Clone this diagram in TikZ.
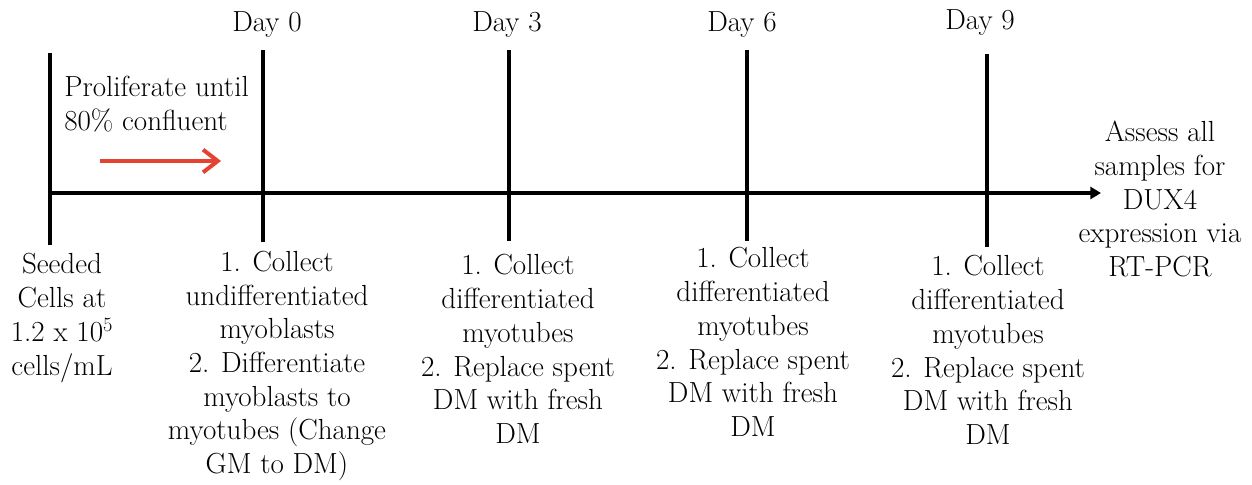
\documentclass[tikz,border=0pt]{standalone}
\usepackage{tikz}
\usetikzlibrary{positioning, arrows, arrows.meta}

\definecolor{arrowred}{RGB}{229,66,50}

\begin{document}
\begin{tikzpicture}[x=0.75pt,y=0.75pt,yscale=-1,xscale=1,
  daymark/.style={line width=3.2pt},
  txt/.style={font=\fontsize{21.8}{25.3}\selectfont, align=center, inner sep=0pt}]
\path[use as bounding box] (0,0) rectangle (1252,485); %set diagram size to 1252 x 485

%Coordinates of the time line
\coordinate (start) at (48,193);
\coordinate (end) at (1101,193);
\coordinate (s0top) at (50,53);
\coordinate (s0bot) at (50,245);
\coordinate (d0top) at (263,50);
\coordinate (d0bot) at (263,242);
\coordinate (d3top) at (509,50);
\coordinate (d3bot) at (509,241);
\coordinate (d6top) at (747,50);
\coordinate (d6bot) at (747,241);
\coordinate (d9top) at (987,54);
\coordinate (d9bot) at (987,247);
\coordinate (redstart) at (100,161);
\coordinate (redend) at (221,161);

%Straight Lines
\draw [line width=3.6pt, -{Triangle[length=8pt,width=9pt]}] (start) -- (end) ;
\draw [daymark] (s0top) -- (s0bot) ;
\draw [daymark] (d0top) -- (d0bot) ;
\draw [daymark] (d3top) -- (d3bot) ;
\draw [daymark] (d6top) -- (d6bot) ;
\draw [daymark] (d9top) -- (d9bot) ;

%Red Arrow
\draw [arrowred, line width=3pt, -{Straight Barb[length=11pt,width=17pt]}] (redstart) -- (redend) ;

% Text Node
\node [txt] (day0) at (267,25) {Day 0};
% Text Node
\node [txt] (day3) at (507,25) {Day 3};
% Text Node
\node [txt] (day6) at (742,25) {Day 6};
% Text Node
\node [txt] (day9) at (980,23) {Day 9};
% Text Node
\node [txt, align=left, anchor=west] (prolif) at (64,104) {Proliferate until\\80\% confluent};
% Text Node
\node [txt] (seeded) at (62,318) {Seeded\\Cells at\\1.2 x 10\textsuperscript{5}\\cells/mL};
% Text Node
\node [txt] (d0txt) at (277,366) {1. Collect\\undifferentiated\\myoblasts\\2. Differentiate\\myoblasts to\\myotubes (Change\\GM to DM)};
% Text Node
\node [txt] (d3txt) at (518,349) {1. Collect\\differentiated\\myotubes\\2. Replace spent\\DM with fresh\\DM};
% Text Node
\node [txt] (d6txt) at (753,342) {1. Collect\\differentiated\\myotubes\\2. Replace spent\\DM with fresh\\DM};
% Text Node
\node [txt] (d9txt) at (988,350) {1. Collect\\differentiated\\myotubes\\2. Replace spent\\DM with fresh\\DM};
% Text Node
\node [txt] (assess) at (1160,199) {Assess all\\samples for\\DUX4\\expression via\\RT-PCR};

\end{tikzpicture}
\end{document}
